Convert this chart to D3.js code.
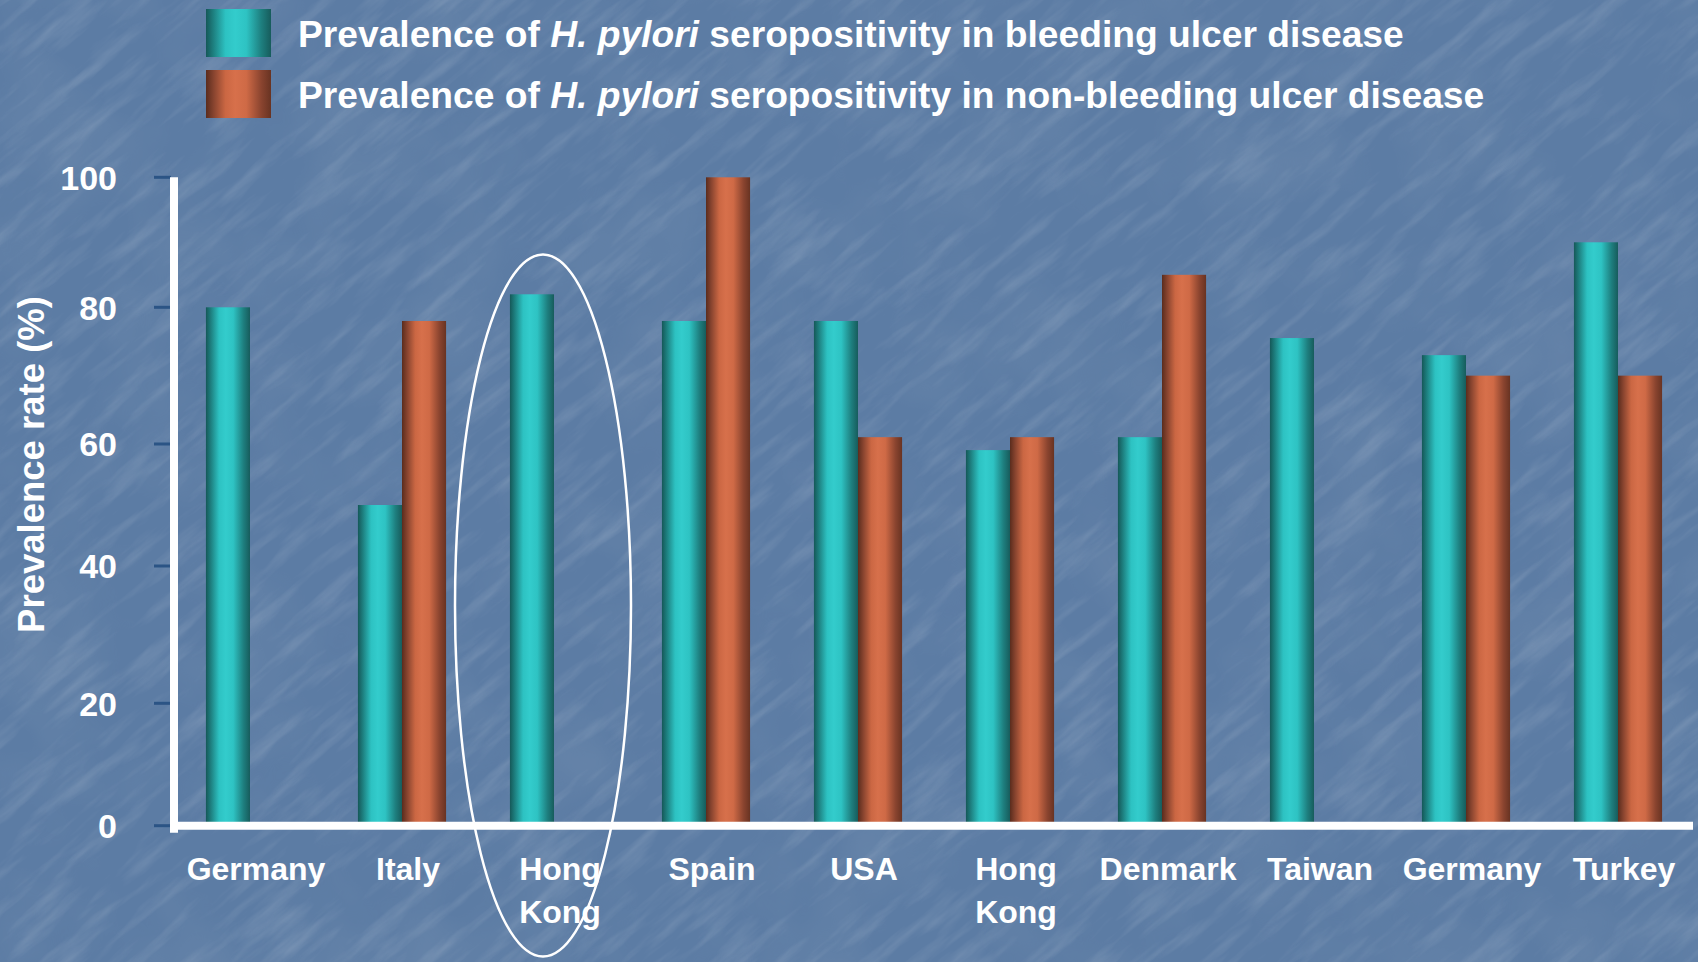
<!DOCTYPE html>
<html>
<head>
<meta charset="utf-8">
<script src="https://cdn.jsdelivr.net/npm/d3@7"></script>
<style>
  html, body { margin: 0; padding: 0; background: #5b7ba3; }
  svg { display: block; }
  text { font-family: "Liberation Sans", Arial, Helvetica, sans-serif; font-weight: bold; fill: #ffffff; }
</style>
</head>
<body>
<svg id="chart" width="1698" height="962"></svg>
<script>
// ---- data ----
const categories = ["Germany", "Italy", "Hong\nKong", "Spain", "USA", "Hong\nKong", "Denmark", "Taiwan", "Germany", "Turkey"];
const bleeding    = [80, 50, 82, 78, 78, 59, 61, 75.5, 73, 90];
const nonBleeding = [null, 78, null, 100, 61, 61, 85, null, 70, 70];
const seriesNames = ["bleeding", "non-bleeding"];
const yTicks = [0, 20, 40, 60, 80, 100];
const highlightIndex = 2;

// ---- layout ----
const W = 1698, H = 962;
const plotLeft = 174, plotRight = 1694;
// pixel stop for each y tick value (axis drawn with uneven tick spacing)
const yStops = [825.7, 703.3, 566, 444, 307.3, 177.3];

const svg = d3.select("#chart");
const defs = svg.append("defs");

// textured blue backdrop: fine diagonal scratches plus soft mottling
const tex = defs.append("filter").attr("id", "tex")
  .attr("x", 0).attr("y", 0).attr("width", 1).attr("height", 1);
tex.append("feTurbulence").attr("type", "fractalNoise")
  .attr("baseFrequency", "0.012 0.07").attr("numOctaves", 4).attr("seed", 11);
tex.append("feColorMatrix").attr("type", "matrix")
  .attr("values", "0 0 0 0 1  0 0 0 0 1  0 0 0 0 1  1.8 0 0 0 -0.85");
const tex2 = defs.append("filter").attr("id", "tex2")
  .attr("x", 0).attr("y", 0).attr("width", 1).attr("height", 1);
tex2.append("feTurbulence").attr("type", "fractalNoise")
  .attr("baseFrequency", "0.01 0.01").attr("numOctaves", 3).attr("seed", 3);
tex2.append("feColorMatrix").attr("type", "matrix")
  .attr("values", "0 0 0 0 0.25  0 0 0 0 0.35  0 0 0 0 0.5  1.4 0 0 0 -0.6");

svg.append("rect").attr("width", W).attr("height", H).attr("fill", "#5c7ca4");
svg.append("rect").attr("width", W).attr("height", H)
  .attr("filter", "url(#tex2)").attr("opacity", 0.3);
svg.append("g").attr("transform", `rotate(-40 ${W / 2} ${H / 2})`)
  .append("rect").attr("x", -700).attr("y", -900).attr("width", W + 1400).attr("height", H + 1800)
  .attr("filter", "url(#tex)").attr("opacity", 0.16);

// cylinder-like shading for bars
function shade(id, stops) {
  const g = defs.append("linearGradient").attr("id", id)
    .attr("x1", 0).attr("x2", 1).attr("y1", 0).attr("y2", 0);
  stops.forEach(([o, c]) => g.append("stop").attr("offset", o).attr("stop-color", c));
}
shade("g-bleeding", [["0%", "#155858"], ["12%", "#1e8282"], ["30%", "#2dc2c2"], ["45%", "#33cccc"],
                     ["62%", "#2ec3c3"], ["85%", "#1e7f7f"], ["100%", "#175c5c"]]);
shade("g-non-bleeding", [["0%", "#5a2c1d"], ["12%", "#88442f"], ["30%", "#cb6743"], ["45%", "#d7704b"],
                         ["62%", "#cf6a46"], ["85%", "#8a442f"], ["100%", "#683322"]]);

// ---- scales ----
const idx = d3.range(categories.length);
const x = d3.scaleBand().domain(idx).range([plotLeft, plotRight])
  .paddingInner(0.42).paddingOuter(0.21);
const xSub = d3.scaleBand().domain(seriesNames).range([0, x.bandwidth()]);
const y = d3.scaleLinear().domain(yTicks).range(yStops);

// ---- bars ----
const rows = idx.map(i => ({ i, values: [bleeding[i], nonBleeding[i]] }));
svg.append("g").selectAll("g").data(rows).join("g")
  .attr("transform", d => `translate(${x(d.i)},0)`)
  .selectAll("rect")
  .data(d => d.values.map((v, k) => ({ key: seriesNames[k], v })).filter(e => e.v != null))
  .join("rect")
  .attr("x", e => xSub(e.key))
  .attr("width", xSub.bandwidth())
  .attr("y", e => y(e.v))
  .attr("height", e => y(0) - y(e.v))
  .attr("fill", e => `url(#g-${e.key})`);

// ---- y axis ----
const yAxis = svg.append("g");
yAxis.selectAll("line.tick").data(yTicks).join("line")
  .attr("class", "tick")
  .attr("x1", 154).attr("x2", 171)
  .attr("y1", d => y(d)).attr("y2", d => y(d))
  .attr("stroke", "#2b5485").attr("stroke-width", 3);
yAxis.selectAll("text").data(yTicks).join("text")
  .attr("x", 117).attr("y", d => y(d)).attr("dy", "0.36em")
  .attr("text-anchor", "end").attr("font-size", 34)
  .text(d => d);
yAxis.append("line")
  .attr("x1", 174).attr("x2", 174).attr("y1", y(100)).attr("y2", y(0) + 7)
  .attr("stroke", "#ffffff").attr("stroke-width", 8);

// ---- x axis ----
svg.append("line")
  .attr("x1", 170).attr("x2", 1693).attr("y1", y(0)).attr("y2", y(0))
  .attr("stroke", "#ffffff").attr("stroke-width", 8);

svg.append("g").selectAll("text").data(idx).join("text")
  .attr("x", i => x(i) + x.bandwidth() / 2 + 6)
  .attr("y", 880)
  .attr("text-anchor", "middle").attr("font-size", 32)
  .each(function (i) {
    const lines = categories[i].split("\n");
    d3.select(this).selectAll("tspan").data(lines).join("tspan")
      .attr("x", x(i) + x.bandwidth() / 2 + 6)
      .attr("dy", (l, k) => k === 0 ? 0 : 43)
      .text(l => l);
  });

// y axis title
svg.append("text")
  .attr("transform", "translate(44,464.5) rotate(-90)")
  .attr("text-anchor", "middle").attr("font-size", 36.5)
  .text("Prevalence rate (%)");

// highlight ring around the first Hong Kong group
svg.append("ellipse")
  .attr("cx", x(highlightIndex) + x.bandwidth() / 2 - 11)
  .attr("cy", 605.5).attr("rx", 88).attr("ry", 351)
  .attr("fill", "none").attr("stroke", "#ffffff").attr("stroke-width", 2.5);

// ---- legend ----
const legendLabels = [
  ["Prevalence of ", "H. pylori", " seropositivity in bleeding ulcer disease"],
  ["Prevalence of ", "H. pylori", " seropositivity in non-bleeding ulcer disease"]
];
const legend = svg.append("g");
seriesNames.forEach((s, k) => {
  const top = 9 + k * 61;
  legend.append("rect").attr("x", 206).attr("y", top).attr("width", 65).attr("height", 48)
    .attr("fill", `url(#g-${s})`);
  const t = legend.append("text").attr("x", 298).attr("y", top + 38).attr("font-size", 37.2);
  legendLabels[k].forEach((part, j) => {
    t.append("tspan").attr("font-style", j === 1 ? "italic" : "normal").text(part);
  });
});
</script>
</body>
</html>
